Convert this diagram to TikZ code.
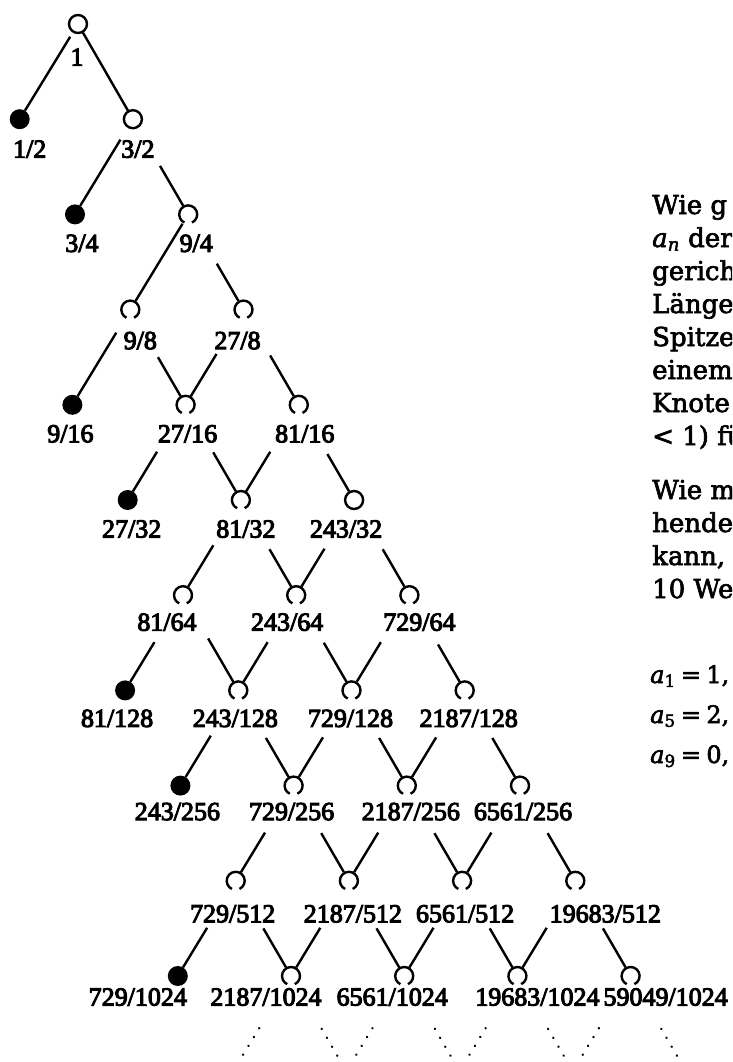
\documentclass[tikz,border=0pt]{standalone}
\usepackage{fontspec}
\newfontfamily\labfont{Liberation Serif}[FakeBold=4]
\newfontfamily\txtfont{DejaVu Serif}[FakeBold=2.5]
\usetikzlibrary{calc}
\tikzset{
  edge/.style={line width=2.4pt, black},
  future/.style={line width=2.4pt, black, dash pattern=on 0.3pt off 10pt, line cap=round},
  hollow/.style={circle, minimum size=20pt, inner sep=0pt, outer sep=0pt},
  dot/.style={hollow, fill=black},
  ring/.style={line width=2.4pt, black},
  lab/.style={font=\labfont\fontsize{26}{28}\selectfont, inner sep=0pt},
  txt/.style={font=\txtfont\fontsize{26}{30}\selectfont, anchor=base west, inner sep=0pt},
  eqn/.style={font=\txtfont\fontsize{24}{30}\selectfont, anchor=base west, inner sep=0pt},
}
\newcommand\seqterm[2]{{\itshape a}\textsubscript{#1}\hspace{0.22em}=\hspace{0.22em}#2,}
\begin{document}
\begin{tikzpicture}[x=1pt,y=1pt]
\useasboundingbox (0,0) rectangle (732,-1062);
\clip (0,0) rectangle (732,-1062);
\fill[white] (0,0) rectangle (732,-1062);

% tree nodes: level / column / kind (0 dot, 1 open arc, 2 full ring) / numerator / denominator / label shift
\foreach \L/\k/\t/\num/\den/\dx in {
  1/0/0/1/2/10, 1/2/2/3/2/5,
  2/1/0/3/4/7, 2/3/1/9/4/8,
  3/2/1/9/8/10, 3/4/1/27/8/-6,
  4/1/0/9/16/-2, 4/3/1/27/16/2, 4/5/1/81/16/6,
  5/2/0/27/32/4, 5/4/1/81/32/5, 5/6/2/243/32/-8,
  6/3/1/81/64/-16, 6/5/1/243/64/-9, 6/7/1/729/64/10,
  7/2/0/81/128/-8, 7/4/1/243/128/-3, 7/6/1/729/128/-1, 7/8/1/2187/128/4,
  8/3/0/243/256/-3, 8/5/1/729/256/-2, 8/7/1/2187/256/4, 8/9/1/6561/256/3,
  9/4/1/729/512/-3, 9/6/1/2187/512/4, 9/8/1/6561/512/3, 9/10/1/19683/512/30,
  10/3/0/729/1024/-40, 10/5/1/2187/1024/-25, 10/7/1/6561/1024/-12,
  10/9/1/19683/1024/20, 10/11/1/59049/1024/35}
{
  \pgfmathsetmacro\px{21+56.6*\k-1.3*\L}
  \pgfmathsetmacro\py{-(24+95.2*\L)}
  \pgfmathsetmacro\dy{{33,30,29,31,29,29,27,28,26,33,21}[\L]}
  \ifcase\t
    \node[dot] (n\L-\k) at (\px,\py) {};
  \or
    \node[hollow] (n\L-\k) at (\px,\py) {};
    \draw[ring] (n\L-\k.center) ++(-65:9pt) arc[start angle=-65, end angle=245, radius=9pt];
  \or
    \node[hollow] (n\L-\k) at (\px,\py) {};
    \draw[ring] (n\L-\k.center) circle[radius=9pt];
  \fi
  \node[lab] (l\L-\k) at (\px+\dx,\py-\dy) {\num/\den};
}

% root
\node[hollow] (n0-1) at (78,-24) {};
\draw[ring] (n0-1.center) circle[radius=9pt];
\node[lab] (l0-1) at (77,-57) {1};

% solid branches: parent / child / hidden start length
\foreach \p/\c/\s in {
  0-1/1-0/5, 0-1/1-2/0,
  1-2/2-1/14, 1-2/2-3/44,
  2-3/3-2/1, 2-3/3-4/47,
  3-2/4-1/17, 3-2/4-3/45, 3-4/4-3/42, 3-4/4-5/43,
  4-3/5-2/45, 4-3/5-4/45, 4-5/5-4/45, 4-5/5-6/47,
  5-4/6-3/43, 5-4/6-5/47, 5-6/6-5/47, 5-6/6-7/47,
  6-3/7-2/45, 6-3/7-4/40, 6-5/7-4/45, 6-5/7-6/45, 6-7/7-6/45, 6-7/7-8/47,
  7-4/8-3/43, 7-4/8-5/45, 7-6/8-5/45, 7-6/8-7/45, 7-8/8-7/45, 7-8/8-9/45,
  8-5/9-4/45, 8-5/9-6/45, 8-7/9-6/45, 8-7/9-8/45, 8-9/9-8/45, 8-9/9-10/45,
  9-4/10-3/45, 9-4/10-5/45, 9-6/10-5/45, 9-6/10-7/45,
  9-8/10-7/45, 9-8/10-9/45, 9-10/10-9/45, 9-10/10-11/45}
{
  \draw[edge, shorten <=\s pt] (n\p) -- (n\c);
}

% the tree goes on below the last row
\foreach \k in {4,6,8,10,12}
  \coordinate (m11-\k) at ({21+56.6*\k-14.3},-1071.2);
\foreach \p/\c in {5/4, 5/6, 7/6, 7/8, 9/8, 9/10, 11/10, 11/12}
  \draw[future, shorten <=51pt] (n10-\p) -- (m11-\c);

% accompanying text column
\node[txt] (t1)  at (652,-214) {Wie g};
\node[txt] (t2)  at (652,-247) {{\itshape a}\textsubscript{\itshape n} der};
\node[txt] (t3)  at (652,-280) {gerich};
\node[txt] (t4)  at (652,-313) {Länge};
\node[txt] (t5)  at (652,-346) {Spitze};
\node[txt] (t6)  at (652,-379) {einem};
\node[txt] (t7)  at (652,-412) {Knote};
\node[txt] (t8)  at (652,-445) {< 1) fü};
\node[txt] (t9)  at (652,-499) {Wie m};
\node[txt] (t10) at (652,-532) {hende};
\node[txt] (t11) at (652,-565) {kann,};
\node[txt] (t12) at (652,-598) {10 We};
\node[eqn] (t13) at (650,-683) {\seqterm{1}{1}};
\node[eqn] (t14) at (650,-723) {\seqterm{5}{2}};
\node[eqn] (t15) at (650,-763) {\seqterm{9}{0}};
\end{tikzpicture}
\end{document}
